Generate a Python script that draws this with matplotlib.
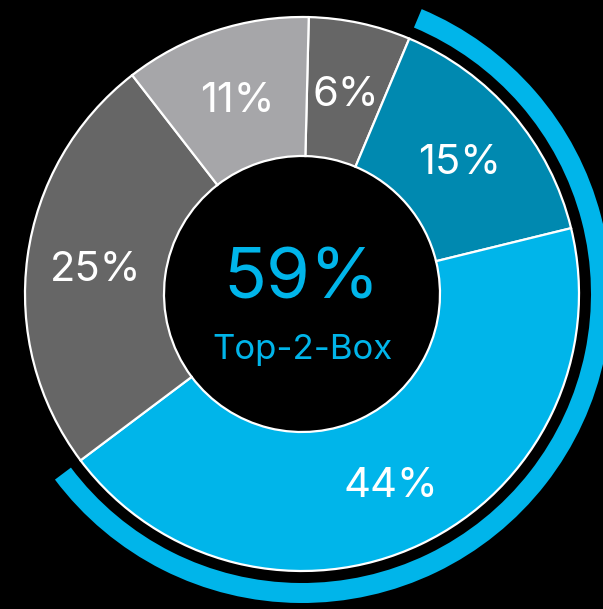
import matplotlib
matplotlib.use('Agg')
import matplotlib.pyplot as plt
from matplotlib.patches import Wedge
import numpy as np

# slices clockwise from the top
shares = [6, 15, 44, 25, 11]
share_labels = ['6%', '15%', '44%', '25%', '11%']
top2 = [1, 2]          # the two slices that make up the top-2-box
top2_label = '59%'
top2_caption = 'Top-2-Box'

colors = ['#666666', '#0089B0', '#00B5EA', '#666666', '#A6A6A9']
blue = '#00B5EA'

plt.rcParams['font.family'] = ['Inter', 'DejaVu Sans']

fig = plt.figure(figsize=(6.03, 6.09), dpi=100, facecolor='black')
ax = fig.add_axes([0, 0, 1, 1])
ax.set_facecolor('black')

cx, cy = 302, 315
r_out, r_in = 277, 138

wedges, _ = ax.pie(shares, colors=colors, startangle=88.6, counterclock=False,
                   center=(cx, cy), radius=r_out,
                   wedgeprops=dict(width=r_out - r_in, edgecolor='white', linewidth=1.6))

# percentage labels at the middle of each slice
for w, lab in zip(wedges, share_labels):
    mid = np.deg2rad((w.theta1 + w.theta2) / 2)
    rr = 0.75 * r_out
    ax.text(cx + rr * np.cos(mid), cy + rr * np.sin(mid), lab,
            color='white', fontsize=30,
            ha='center', va='center_baseline')

# outer highlight arc around the top-2 slices
t1 = min(wedges[i].theta1 for i in top2)
t2 = max(wedges[i].theta2 for i in top2)
ax.add_patch(Wedge((cx, cy), 309, t1, t2, width=20, facecolor=blue, edgecolor='none'))

ax.text(cx, cy + 21, top2_label, color=blue, fontsize=51,
        ha='center', va='center_baseline')
ax.text(cx, cy - 52, top2_caption, color=blue, fontsize=25,
        ha='center', va='center_baseline')

ax.set_xlim(0, 603)
ax.set_ylim(0, 609)
ax.set_aspect('equal')
ax.axis('off')

plt.savefig('out.png', dpi=100, facecolor='black')
